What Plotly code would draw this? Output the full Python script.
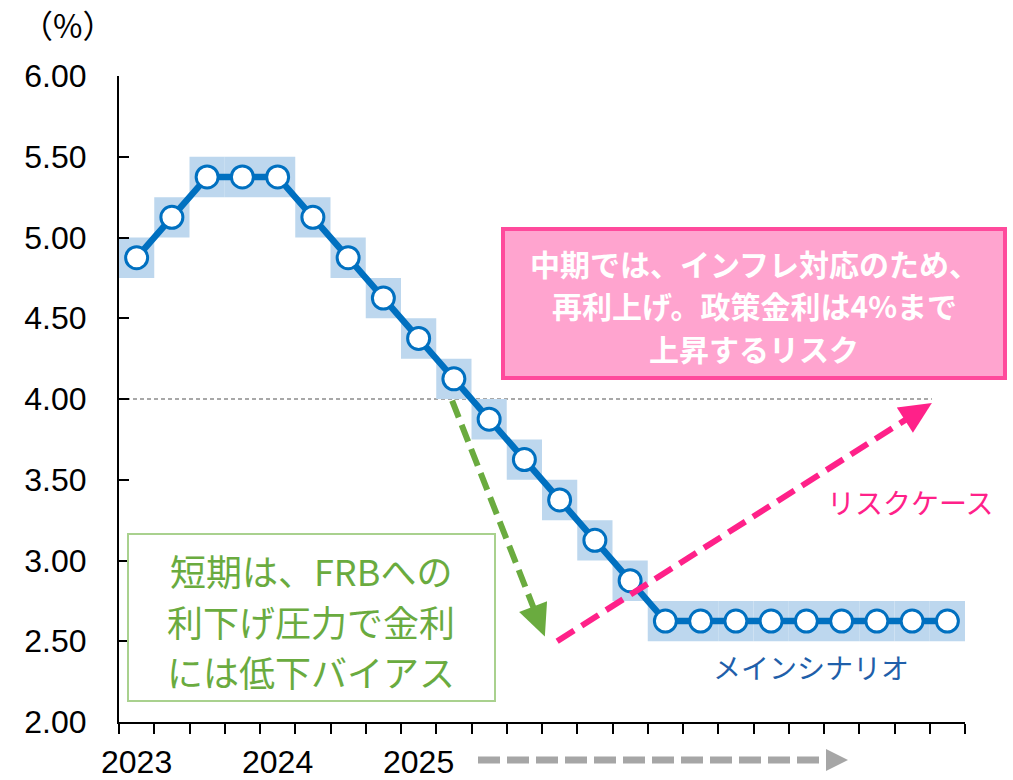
import math
import plotly.graph_objects as go

# Quarterly policy-rate path (midpoint of the target range, %)
quarters = list(range(24))
policy_rate = [4.875, 5.125, 5.375, 5.375, 5.375, 5.125, 4.875, 4.625, 4.375, 4.125,
               3.875, 3.625, 3.375, 3.125, 2.875, 2.625, 2.625, 2.625, 2.625, 2.625,
               2.625, 2.625, 2.625, 2.625]
range_width = 0.25          # width of the target range band

year_labels = ["2023", "2024", "2025"]
year_positions = [0, 4, 8]

y_ticks = [2.0, 2.5, 3.0, 3.5, 4.0, 4.5, 5.0, 5.5, 6.0]
reference_level = 4.0

# Scenario arrows (data coordinates: quarter index, rate)
easing_arrow = [(8.95, 3.99), (11.58, 2.53)]
risk_arrow = [(11.93, 2.50), (22.56, 3.975)]

risk_lines = ["中期では、インフレ対応のため、", "再利上げ。政策金利は4%まで", "上昇するリスク"]
easing_lines = ["短期は、FRBへの", "利下げ圧力で金利", "には低下バイアス"]

W, H = 1013, 780
M_L, M_R, M_T, M_B = 119, 48, 76, 58
PLOT_W = W - M_L - M_R
PLOT_H = H - M_T - M_B
X_RANGE = [-0.5, 23.5]
Y_RANGE = [2.0, 6.0]
SX = PLOT_W / (X_RANGE[1] - X_RANGE[0])
SY = PLOT_H / (Y_RANGE[1] - Y_RANGE[0])

BLUE = "#0070C0"
BAND = "#BDD7EE"
GREEN = "#6AAB3F"
PINK = "#FF2189"
NUM_FONT = "Liberation Sans, Arial, sans-serif"
JP_FONT = "Noto Sans CJK JP, sans-serif"


def px_to_paper(px, py):
    return (px - M_L) / PLOT_W, (H - M_B - py) / PLOT_H


def arrow(tail, tip, color, width, dash, head_len, head_w, sx, sy, ref=("x", "y")):
    """Dashed shaft plus filled triangular head; sizes given in pixels."""
    dx = (tip[0] - tail[0]) * sx
    dy = (tip[1] - tail[1]) * sy
    length = math.hypot(dx, dy)
    ux, uy = dx / length, dy / length
    bx = tip[0] - head_len * ux / sx
    by = tip[1] - head_len * uy / sy
    px_, py_ = -uy, ux
    p1 = (bx + head_w / 2 * px_ / sx, by + head_w / 2 * py_ / sy)
    p2 = (bx - head_w / 2 * px_ / sx, by - head_w / 2 * py_ / sy)
    shaft = dict(type="line", xref=ref[0], yref=ref[1], x0=tail[0], y0=tail[1],
                 x1=bx + 2 * ux / sx, y1=by + 2 * uy / sy,
                 line=dict(color=color, width=width, dash=dash), layer="above")
    head = dict(type="path", xref=ref[0], yref=ref[1],
                path=f"M {tip[0]},{tip[1]} L {p1[0]},{p1[1]} L {p2[0]},{p2[1]} Z",
                fillcolor=color, line=dict(width=0), layer="above")
    return [shaft, head]


fig = go.Figure()

# Target-range band behind the path
fig.add_trace(go.Bar(
    x=quarters,
    y=[range_width] * len(policy_rate),
    base=[v - range_width / 2 for v in policy_rate],
    width=1,
    marker=dict(color=BAND, line=dict(width=0)),
    hoverinfo="skip",
    showlegend=False,
))

# Main scenario path
fig.add_trace(go.Scatter(
    x=quarters,
    y=policy_rate,
    mode="lines+markers",
    line=dict(color=BLUE, width=6.5),
    marker=dict(size=22, color="white", line=dict(color=BLUE, width=3)),
    showlegend=False,
))

shapes = []

# 4% reference line
ref_end = risk_arrow[1][0]
shapes.append(dict(type="line", xref="x", yref="y", x0=X_RANGE[0], x1=ref_end,
                   y0=reference_level, y1=reference_level,
                   line=dict(color="#8C8C8C", width=1.5, dash="4px,3px"), layer="below"))

# Scenario arrows
shapes += arrow(easing_arrow[0], easing_arrow[1], GREEN, 6, "18px,8px", 32, 30, SX, SY)
shapes += arrow(risk_arrow[0], risk_arrow[1], PINK, 6, "20px,9px", 32, 30, SX, SY)

# Time-direction arrow below the axis
g_tail = px_to_paper(478, 760)
g_tip = px_to_paper(848, 760)
shapes += arrow(g_tail, g_tip, "#A6A6A6", 7, "22px,7px", 22, 22, PLOT_W, PLOT_H,
                ref=("paper", "paper"))

# Pink risk box
pb0 = px_to_paper(503, 378)
pb1 = px_to_paper(1005, 229)
shapes.append(dict(type="rect", xref="paper", yref="paper",
                   x0=pb0[0], y0=pb0[1], x1=pb1[0], y1=pb1[1],
                   fillcolor="#FFA4CF", line=dict(color="#FF4A9C", width=4), layer="above"))

# Green short-term box
gb0 = px_to_paper(128, 701)
gb1 = px_to_paper(495, 534)
shapes.append(dict(type="rect", xref="paper", yref="paper",
                   x0=gb0[0], y0=gb0[1], x1=gb1[0], y1=gb1[1],
                   fillcolor="white", line=dict(color="#A9D18E", width=2), layer="above"))

annotations = []

def add_text(text, px, py, size, color, family=JP_FONT, bold=False):
    x, y = px_to_paper(px, py)
    if bold:
        text = f"<b>{text}</b>"
    annotations.append(dict(text=text, x=x, y=y, xref="paper", yref="paper",
                            xanchor="center", yanchor="middle", showarrow=False,
                            font=dict(size=size, color=color, family=family)))

add_text("（%）", 67, 24, 32, "black")
for line, py in zip(risk_lines, [263, 305, 348]):
    add_text(line, 754, py, 30, "white", bold=True)
for line, py in zip(easing_lines, [570, 621, 671]):
    add_text(line, 311, py, 36, GREEN)
add_text("リスクケース", 910, 502, 28, PINK)
add_text("メインシナリオ", 811, 667, 28, "#1F5FAA")

# Year labels under the quarter ticks
for label, q in zip(year_labels, year_positions):
    annotations.append(dict(text=label, x=q, y=(H - M_B - 762) / PLOT_H,
                            xref="x", yref="paper", xanchor="center", yanchor="middle",
                            showarrow=False,
                            font=dict(size=32, color="black", family=NUM_FONT)))

fig.update_layout(
    width=W, height=H, autosize=False,
    margin=dict(l=M_L, r=M_R, t=M_T, b=M_B),
    paper_bgcolor="white", plot_bgcolor="white",
    shapes=shapes, annotations=annotations,
    showlegend=False,
    xaxis=dict(
        range=X_RANGE, showgrid=False, zeroline=False, automargin=False,
        showline=True, linecolor="black", linewidth=2,
        tickmode="linear", tick0=-0.5, dtick=1, showticklabels=False,
        ticks="outside", ticklen=10, tickwidth=2, tickcolor="black",
    ),
    yaxis=dict(
        range=Y_RANGE, showgrid=False, zeroline=False, automargin=False,
        showline=True, linecolor="black", linewidth=2,
        tickmode="array", tickvals=y_ticks, ticktext=[f"{v:.2f}" for v in y_ticks],
        ticks="inside", ticklen=10, tickwidth=2, tickcolor="black",
        ticklabelstandoff=24,
        tickfont=dict(size=32, color="black", family=NUM_FONT),
    ),
)

fig.write_html("out.html")
